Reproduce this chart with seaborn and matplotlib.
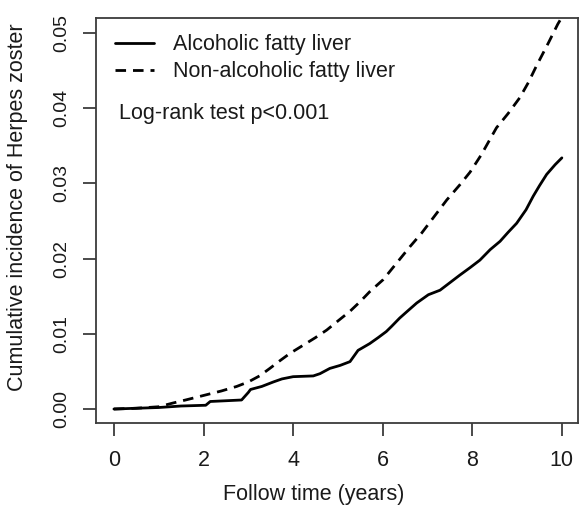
import matplotlib
matplotlib.use("Agg")
import matplotlib.pyplot as plt
import seaborn as sns
import pandas as pd

# Alcoholic fatty liver (solid)
alc_time = [0, 0.5, 1.0, 1.5, 2.05, 2.15, 2.85, 3.0, 3.05, 3.3, 3.56, 3.75, 4.0, 4.45, 4.6,
            4.82, 5.05, 5.27, 5.45, 5.71, 5.9, 6.08, 6.2, 6.38, 6.55, 6.76, 7.02, 7.28, 7.5,
            7.72, 7.95, 8.17, 8.4, 8.62, 8.8, 8.99, 9.2, 9.36, 9.5, 9.66, 9.85, 10.0]
alc_inc = [0, 0.0001, 0.0002, 0.0004, 0.0005, 0.0010, 0.0012, 0.0022, 0.0026, 0.0030, 0.0036,
           0.0040, 0.0043, 0.0044, 0.0047, 0.0054, 0.0058, 0.0063, 0.0078, 0.0087, 0.0095,
           0.0103, 0.0110, 0.0121, 0.0130, 0.0141, 0.0152, 0.0158, 0.0168, 0.0178, 0.0188,
           0.0198, 0.0212, 0.0223, 0.0235, 0.0247, 0.0265, 0.0283, 0.0297, 0.0312, 0.0325, 0.0334]

# Non-alcoholic fatty liver (dashed)
non_time = [0, 0.5, 1.0, 1.32, 1.6, 2.0, 2.4, 2.74, 3.0, 3.25, 3.48, 3.7, 3.93, 4.23, 4.5,
            4.75, 5.04, 5.27, 5.5, 5.71, 6.01, 6.31, 6.61, 6.87, 7.15, 7.43, 7.72, 7.95, 8.2,
            8.54, 8.8, 9.06, 9.25, 9.43, 9.7, 9.91, 10.0]
non_inc = [0, 0.0001, 0.0003, 0.0008, 0.0012, 0.0018, 0.0024, 0.0030, 0.0036, 0.0044, 0.0054,
           0.0064, 0.0074, 0.0085, 0.0095, 0.0105, 0.0119, 0.0130, 0.0143, 0.0156, 0.0172,
           0.0194, 0.0216, 0.0234, 0.0256, 0.0278, 0.0298, 0.0315, 0.0338, 0.0374, 0.0393,
           0.0414, 0.0434, 0.0456, 0.0487, 0.0512, 0.0521]

series_names = ["Alcoholic fatty liver", "Non-alcoholic fatty liver"]
x_ticks = [0, 2, 4, 6, 8, 10]
y_ticks = [0.00, 0.01, 0.02, 0.03, 0.04, 0.05]
y_tick_labels = ["0.00", "0.01", "0.02", "0.03", "0.04", "0.05"]

sns.set_style("ticks")
plt.rcParams["font.family"] = ["Liberation Sans", "DejaVu Sans"]

FSH = 15.5   # horizontal text and axis labels
FSYT = 14.0  # y tick labels
edge = "#3c3c3c"
tc = "#1a1a1a"

fig = plt.figure(figsize=(5.79, 5.07), dpi=100)
ax = fig.add_axes([96 / 579, 1 - 423 / 507, 482 / 579, 405 / 507])

df_alc = pd.DataFrame({"t": alc_time, "v": alc_inc})
df_non = pd.DataFrame({"t": non_time, "v": non_inc})

sns.lineplot(data=df_alc, x="t", y="v", ax=ax, color="black", linewidth=2.0,
             estimator=None, label=series_names[0])
sns.lineplot(data=df_non, x="t", y="v", ax=ax, color="black", linewidth=2.0,
             estimator=None, label=series_names[1])
ax.lines[1].set_dashes([3.8, 2.5])

ax.set_xlim(-0.4, 10.36)
ax.set_ylim(-0.00186, 0.0520)
ax.set_xticks(x_ticks)
ax.set_xticklabels([str(t) for t in x_ticks], fontsize=FSH)
ax.set_yticks(y_ticks)
ax.set_yticklabels(y_tick_labels, rotation=90, va="center", fontsize=FSYT)

for s in ax.spines.values():
    s.set_color(edge)
    s.set_linewidth(1.3)
ax.tick_params(axis="both", length=9.5, width=1.3, color=edge, labelcolor=tc)
ax.tick_params(axis="x", pad=10)
ax.tick_params(axis="y", pad=9)

ax.set_xlabel("Follow time (years)", fontsize=FSH, color=tc, va="center")
ax.set_ylabel("Cumulative incidence of Herpes zoster", fontsize=FSH, color=tc, va="center")
ax.xaxis.set_label_coords(0.451, -0.176)
ax.yaxis.set_label_coords(-0.162, 0.533)

leg = ax.legend(loc="upper left", bbox_to_anchor=(0.039, 0.960), frameon=False,
                fontsize=FSH, handlelength=1.81, handletextpad=0.88, labelspacing=0.28,
                borderaxespad=0, borderpad=0)
for t in leg.get_texts():
    t.set_color(tc)

ax.text(0.048, 0.763, "Log-rank test p<0.001", transform=ax.transAxes, fontsize=FSH,
        va="center", ha="left", color=tc)

fig.savefig("out.png", dpi=100)
